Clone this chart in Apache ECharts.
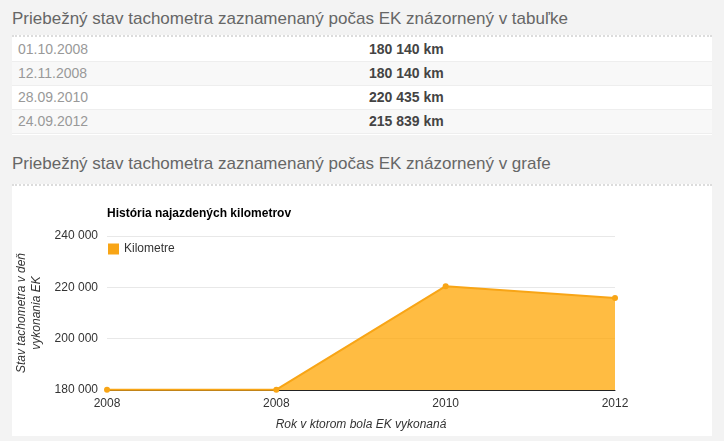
<!DOCTYPE html>
<html>
<head>
<meta charset="utf-8">
<title>Tachometer</title>
<script src="https://cdn.jsdelivr.net/npm/echarts@6/dist/echarts.min.js"></script>
<style>
    body {margin:0; background:#f3f3f3; font-family:"Liberation Sans", Arial, sans-serif; width:724px; height:441px; overflow:hidden; position:relative;}
    h2 {position:absolute; left:12px; margin:0; font-size:17px; font-weight:normal; color:#666; line-height:20px;}
    .box {position:absolute; left:12px; width:700px; background:#fff; border-top:2px dotted #dcdcdc; box-sizing:border-box;}
    table {border-collapse:collapse; width:100%; font-size:14px;}
    td {height:24px; padding:0 0 0 6px; border-bottom:1px solid #eee; box-sizing:border-box;}
    tr:nth-child(even) td {background:#f8f8f8;}
    td.d {color:#999; width:351px;}
    td.v {color:#444; font-weight:bold;}
</style>
</head>
<body>
<h2 style="top:9px">Priebežný stav tachometra zaznamenaný počas EK znázornený v tabuľke</h2>
<div class="box" style="top:35px;height:100px"><table id="tab"></table></div>
<h2 style="top:154px">Priebežný stav tachometra zaznamenaný počas EK znázornený v grafe</h2>
<div class="box" style="top:184px;height:252px"><div id="main" style="width:700px;height:250px"></div></div>
<script>
    // dátumy EK a stav tachometra
    var dates = ['01.10.2008', '12.11.2008', '28.09.2010', '24.09.2012'];
    var years = ['2008', '2008', '2010', '2012'];
    var km = [180140, 180140, 220435, 215839];
    var yTicks = [180000, 200000, 220000, 240000];

    function fmt(n){
        return String(n).replace(/\B(?=(\d{3})+(?!\d))/g, ' ');
    }

    var html = '';
    for (var i = 0; i < dates.length; i++) {
        html += '<tr><td class="d">' + dates[i] + '</td><td class="v">' + fmt(km[i]) + ' km</td></tr>';
    }
    document.getElementById('tab').innerHTML = html;

    var myChart = echarts.init(document.getElementById('main'));
    var option = {
        animation: false,
        textStyle: {fontFamily: 'Liberation Sans'},
        title: {
            text: 'História najazdených kilometrov',
            left: 90, top: 17,
            textStyle: {fontSize: 12, fontWeight: 'bold', color: '#000'}
        },
        legend: {
            left: 91, top: 52,
            icon: 'rect', itemWidth: 11, itemHeight: 11,
            textStyle: {fontSize: 12, color: '#333'},
            data: ['Kilometre']
        },
        grid: {left: 95, right: 97, top: 50, bottom: 46, containLabel: false, outerBoundsMode: 'none'},
        xAxis: {
            type: 'category',
            boundaryGap: false,
            data: years,
            name: 'Rok v ktorom bola EK vykonaná',
            nameLocation: 'middle',
            nameGap: 29,
            nameTextStyle: {fontStyle: 'italic', fontSize: 12, color: '#333'},
            axisLine: {lineStyle: {color: '#222'}},
            axisTick: {show: false},
            axisLabel: {color: '#333', fontSize: 12, margin: 8}
        },
        yAxis: {
            type: 'value',
            min: yTicks[0], max: yTicks[yTicks.length - 1], interval: 20000,
            name: 'Stav tachometra v deň\nvykonania EK',
            nameLocation: 'middle',
            nameGap: 59,
            nameTextStyle: {fontStyle: 'italic', fontSize: 12, color: '#333', lineHeight: 15},
            axisLine: {show: false},
            axisTick: {show: false},
            splitLine: {lineStyle: {color: '#e8e8e8'}},
            axisLabel: {color: '#333', fontSize: 12, margin: 9, formatter: fmt}
        },
        series: [{
            name: 'Kilometre',
            type: 'line',
            data: km,
            symbol: 'circle',
            symbolSize: 6,
            itemStyle: {color: '#f8a516'},
            lineStyle: {color: '#f8a516', width: 2},
            areaStyle: {color: '#ffa500', opacity: 0.74, origin: 'start'}
        }]
    };
    myChart.setOption(option);
</script>
</body>
</html>
